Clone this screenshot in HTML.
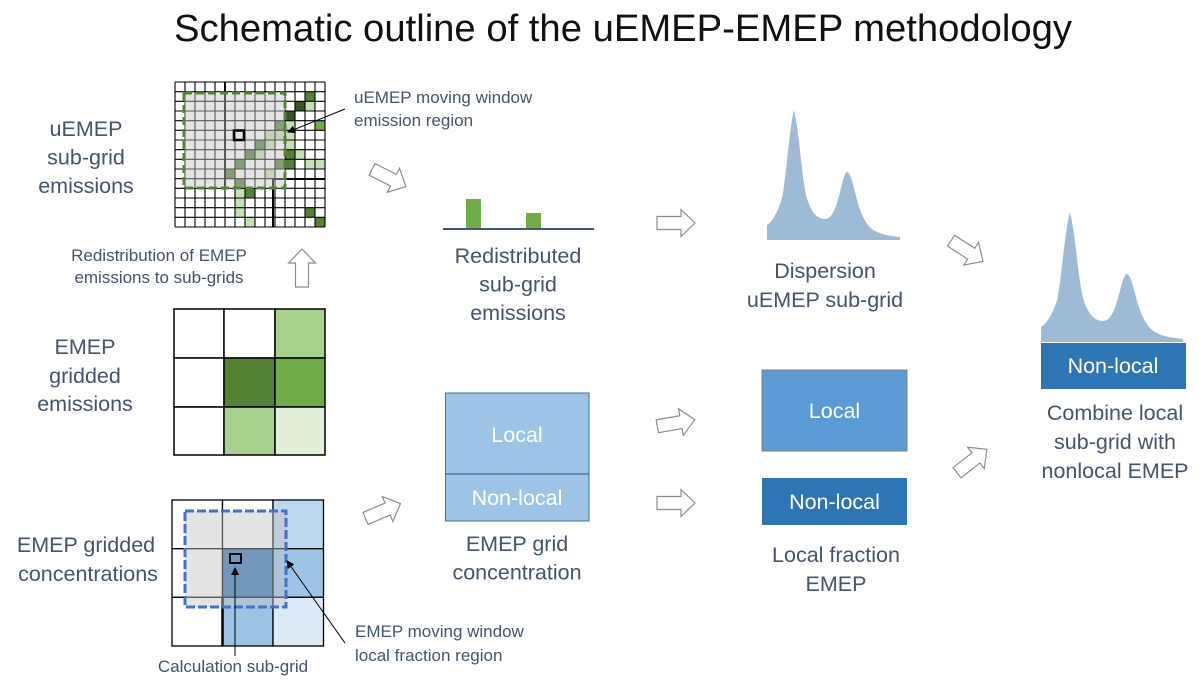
<!DOCTYPE html>
<html>
<head>
<meta charset="utf-8">
<style>
html,body{margin:0;padding:0;background:#fff;}
svg{display:block;}
text{font-family:"Liberation Sans",sans-serif;}
.lbl{font-size:21.5px;fill:#44546a;text-anchor:middle;}
.sm{font-size:17px;fill:#44546a;}
.wt{font-size:21.5px;fill:#fff;text-anchor:middle;}
.ha{fill:#fff;stroke:#8c8c8c;stroke-width:1.2;}
</style>
</head>
<body>
<svg width="1199" height="687" viewBox="0 0 1199 687" xmlns="http://www.w3.org/2000/svg">
<defs>
<marker id="ah" markerWidth="8" markerHeight="8" refX="7" refY="4" orient="auto" markerUnits="userSpaceOnUse">
<path d="M0,0 L8,4 L0,8 Z" fill="#000"/>
</marker>
<path id="harr" d="M-19,-6.5 L5,-6.5 L5,-13.5 L19,0 L5,13.5 L5,6.5 L-19,6.5 Z"/>
<path id="peak" d="M767,240 L767,225 C772,222 778,212 782,198 C786,180 789,130 794,110 C799,130 801,170 806,195 C810,210 816,219 825,219 C834,219 838,200 841,188 C843,180 845,172 847,172 C850,172 852,180 855,192 C858,205 863,222 872,229 C880,235 892,236 900,237 L900,240 Z"/>
</defs>

<!-- Title -->
<text x="174" y="41" font-size="38" fill="#111" textLength="898" lengthAdjust="spacingAndGlyphs">Schematic outline of the uEMEP-EMEP methodology</text>

<!-- Left labels -->
<text class="lbl" x="86" y="136">uEMEP</text>
<text class="lbl" x="86" y="164.5">sub-grid</text>
<text class="lbl" x="86" y="193">emissions</text>

<text class="sm" x="159" y="261" text-anchor="middle">Redistribution of EMEP</text>
<text class="sm" x="159" y="283" text-anchor="middle">emissions to sub-grids</text>

<text class="lbl" x="85" y="354">EMEP</text>
<text class="lbl" x="85" y="383">gridded</text>
<text class="lbl" x="85" y="411">emissions</text>

<text class="lbl" x="86" y="552">EMEP gridded</text>
<text class="lbl" x="88" y="581">concentrations</text>

<!-- Fine sub-grid cells -->
<g>
<!-- inside window -->
<rect x="275" y="120.67" width="10" height="9.67" fill="#548235"/>
<rect x="265" y="130.33" width="10" height="9.67" fill="#c5e0b4"/>
<rect x="275" y="130.33" width="10" height="9.67" fill="#c5e0b4"/>
<rect x="255" y="140" width="10" height="9.67" fill="#548235"/>
<rect x="265" y="140" width="10" height="9.67" fill="#c5e0b4"/>
<rect x="245" y="149.67" width="10" height="9.67" fill="#548235"/>
<rect x="255" y="149.67" width="10" height="9.67" fill="#c5e0b4"/>
<rect x="235" y="159.33" width="10" height="9.67" fill="#548235"/>
<rect x="275" y="159.33" width="10" height="9.67" fill="#548235"/>
<rect x="225" y="169" width="10" height="9.67" fill="#548235"/>
<rect x="265" y="169" width="10" height="9.67" fill="#c5e0b4"/>
<rect x="235" y="178.67" width="10" height="9.67" fill="#548235"/>
<!-- outside -->
<rect x="305" y="91.67" width="10" height="9.67" fill="#548235"/>
<rect x="295" y="101.33" width="10" height="9.67" fill="#375623"/>
<rect x="305" y="101.33" width="10" height="9.67" fill="#c5e0b4"/>
<rect x="285" y="111" width="10" height="9.67" fill="#375623"/>
<rect x="285" y="120.67" width="10" height="9.67" fill="#c5e0b4"/>
<rect x="315" y="120.67" width="10" height="9.67" fill="#70ad47"/>
<rect x="285" y="130.33" width="10" height="9.67" fill="#c5e0b4"/>
<rect x="285" y="140" width="10" height="9.67" fill="#c5e0b4"/>
<rect x="285" y="149.67" width="10" height="9.67" fill="#548235"/>
<rect x="295" y="149.67" width="10" height="9.67" fill="#c5e0b4"/>
<rect x="285" y="159.33" width="10" height="9.67" fill="#548235"/>
<rect x="305" y="159.33" width="10" height="9.67" fill="#c5e0b4"/>
<rect x="315" y="159.33" width="10" height="9.67" fill="#c5e0b4"/>
<rect x="235" y="188.33" width="10" height="9.67" fill="#c5e0b4"/>
<rect x="245" y="188.33" width="10" height="9.67" fill="#548235"/>
<rect x="235" y="198" width="10" height="9.67" fill="#c5e0b4"/>
<rect x="235" y="207.67" width="10" height="9.67" fill="#c5e0b4"/>
<rect x="305" y="207.67" width="10" height="9.67" fill="#548235"/>
<rect x="245" y="217.33" width="10" height="9.67" fill="#c5e0b4"/>
<rect x="315" y="217.33" width="10" height="9.67" fill="#548235"/>
</g>
<!-- Fine grid lines -->
<g stroke="#000" stroke-width="1.1" fill="none">
<path d="M175,82V227 M185,82V227 M195,82V227 M205,82V227 M215,82V227 M225,82V227 M235,82V227 M245,82V227 M255,82V227 M265,82V227 M275,82V227 M285,82V227 M295,82V227 M305,82V227 M315,82V227 M325,82V227"/>
<path d="M175,82H325 M175,91.67H325 M175,101.33H325 M175,111H325 M175,120.67H325 M175,130.33H325 M175,140H325 M175,149.67H325 M175,159.33H325 M175,169H325 M175,178.67H325 M175,188.33H325 M175,198H325 M175,207.67H325 M175,217.33H325 M175,227H325"/>
<path d="M225,82V188 M273,179V227 M273,179H325" stroke-width="2"/>
</g>
<!-- moving window overlay -->
<rect x="184" y="93" width="101" height="95" fill="rgb(195,195,195)" fill-opacity="0.45"/>
<rect x="184" y="93" width="101" height="95" fill="none" stroke="#548235" stroke-width="3" stroke-dasharray="8 4"/>
<rect x="234" y="130.5" width="10" height="9.5" fill="none" stroke="#000" stroke-width="2.5"/>
<line x1="345" y1="109" x2="288" y2="132" stroke="#000" stroke-width="1" marker-end="url(#ah)"/>
<text class="sm" x="354" y="103">uEMEP moving window</text>
<text class="sm" x="354" y="126">emission region</text>

<!-- up arrow -->
<use href="#harr" class="ha" transform="translate(302,268) rotate(-90)"/>

<!-- EMEP gridded emissions 3x3 -->
<g stroke="#000" stroke-width="1.5">
<rect x="174" y="309" width="50" height="49" fill="#fff"/>
<rect x="224" y="309" width="51" height="49" fill="#fff"/>
<rect x="275" y="309" width="50" height="49" fill="#a9d18e"/>
<rect x="174" y="358" width="50" height="49" fill="#fff"/>
<rect x="224" y="358" width="51" height="49" fill="#548235"/>
<rect x="275" y="358" width="50" height="49" fill="#70ad47"/>
<rect x="174" y="407" width="50" height="48" fill="#fff"/>
<rect x="224" y="407" width="51" height="48" fill="#a9d18e"/>
<rect x="275" y="407" width="50" height="48" fill="#e2f0d9"/>
</g>

<!-- EMEP gridded concentrations -->
<g stroke="#000" stroke-width="1.3">
<rect x="172" y="500" width="50.5" height="48.7" fill="#fff"/>
<rect x="222.5" y="500" width="50.5" height="48.7" fill="#fff"/>
<rect x="273" y="500" width="50.5" height="48.7" fill="#bdd7ee"/>
<rect x="172" y="548.7" width="50.5" height="48.6" fill="#fff"/>
<rect x="222.5" y="548.7" width="50.5" height="48.6" fill="#2e75b6"/>
<rect x="273" y="548.7" width="50.5" height="48.6" fill="#9dc3e6"/>
<rect x="172" y="597.3" width="50.5" height="48.7" fill="#fff"/>
<rect x="222.5" y="597.3" width="50.5" height="48.7" fill="#9dc3e6"/>
<rect x="273" y="597.3" width="50.5" height="48.7" fill="#deebf7"/>
</g>
<path d="M222.5,597V646" stroke="#000" stroke-width="2.5"/>
<rect x="185" y="511" width="101" height="96" fill="rgb(195,195,195)" fill-opacity="0.45"/>
<rect x="185" y="511" width="101" height="96" fill="none" stroke="#4472c4" stroke-width="3" stroke-dasharray="9 3"/>
<rect x="230" y="554" width="11" height="9" fill="none" stroke="#000" stroke-width="2"/>
<line x1="235" y1="656" x2="235" y2="568" stroke="#000" stroke-width="1" marker-end="url(#ah)"/>
<line x1="345" y1="643" x2="287" y2="561" stroke="#000" stroke-width="1" marker-end="url(#ah)"/>
<text class="sm" x="233" y="672" text-anchor="middle">Calculation sub-grid</text>
<text class="sm" x="355" y="637">EMEP moving window</text>
<text class="sm" x="355" y="661">local fraction region</text>

<!-- hollow arrows -->
<use href="#harr" class="ha" transform="translate(389,178) rotate(27)"/>
<use href="#harr" class="ha" transform="translate(676,223)"/>
<use href="#harr" class="ha" transform="translate(967,251) rotate(33)"/>
<use href="#harr" class="ha" transform="translate(383,511) rotate(-23)"/>
<use href="#harr" class="ha" transform="translate(676,423) rotate(-10)"/>
<use href="#harr" class="ha" transform="translate(676,503)"/>
<use href="#harr" class="ha" transform="translate(972,461) rotate(-38)"/>

<!-- Redistributed -->
<rect x="466" y="199" width="15" height="29" fill="#70ad47"/>
<rect x="526" y="213" width="15" height="15" fill="#70ad47"/>
<line x1="443" y1="229" x2="594" y2="229" stroke="#44546a" stroke-width="2"/>
<text class="lbl" x="518" y="263">Redistributed</text>
<text class="lbl" x="518" y="291.5">sub-grid</text>
<text class="lbl" x="518" y="320">emissions</text>

<!-- EMEP grid concentration box -->
<rect x="445.5" y="393" width="143.5" height="128" fill="#9dc3e6" stroke="#41719c" stroke-width="1"/>
<line x1="445.5" y1="474" x2="589" y2="474" stroke="#2f4f7a" stroke-width="1"/>
<text class="wt" x="517" y="442">Local</text>
<text class="wt" x="517" y="505">Non-local</text>
<text class="lbl" x="517" y="551">EMEP grid</text>
<text class="lbl" x="517" y="579.5">concentration</text>

<!-- Dispersion peak -->
<use href="#peak" fill="#9dbad6"/>
<text class="lbl" x="825" y="278">Dispersion</text>
<text class="lbl" x="825" y="307">uEMEP sub-grid</text>

<!-- Local fraction -->
<rect x="762" y="370" width="145" height="81" fill="#5b9bd5" stroke="#7f7f7f" stroke-width="1"/>
<text class="wt" x="834.5" y="418">Local</text>
<rect x="762" y="478" width="145" height="47" fill="#2e75b6"/>
<text class="wt" x="834.5" y="509">Non-local</text>
<text class="lbl" x="836" y="562">Local fraction</text>
<text class="lbl" x="836" y="591">EMEP</text>

<!-- Combined -->
<use href="#peak" fill="#9dbad6" transform="translate(1041,342) scale(1.07,1) translate(-767,-240)"/>
<rect x="1041" y="343" width="145" height="46" fill="#2e75b6"/>
<text class="wt" x="1113" y="373">Non-local</text>
<text class="lbl" x="1115" y="420">Combine local</text>
<text class="lbl" x="1115" y="449">sub-grid with</text>
<text class="lbl" x="1115" y="478">nonlocal EMEP</text>
</svg>
</body>
</html>
